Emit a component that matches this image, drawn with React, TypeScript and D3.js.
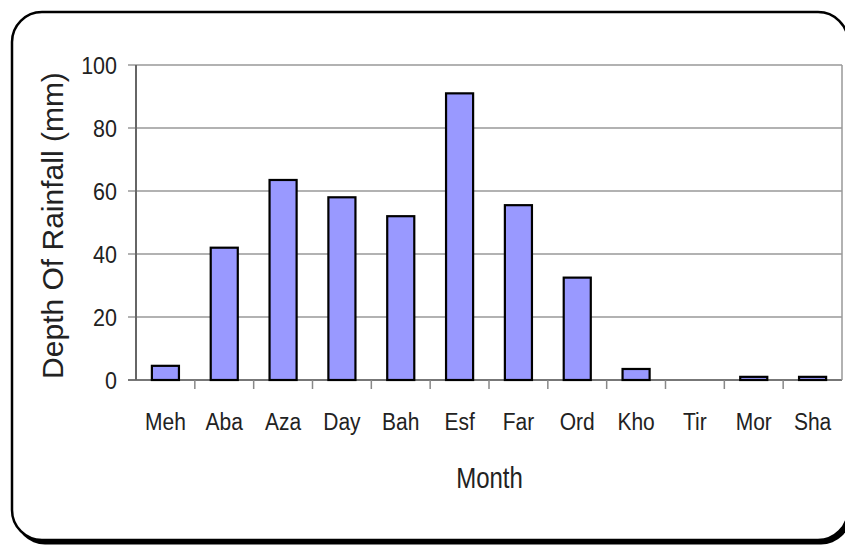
import React from "react";
import * as d3 from "d3";

const months = ["Meh", "Aba", "Aza", "Day", "Bah", "Esf", "Far", "Ord", "Kho", "Tir", "Mor", "Sha"];
const rainfall = [4.5, 42, 63.5, 58, 52, 91, 55.5, 32.5, 3.5, 0, 1, 1];
const yTicks = [0, 20, 40, 60, 80, 100];

const W = 845;
const H = 547;
const plot = { left: 136, right: 842, top: 65, bottom: 380 };
const font = "'Liberation Sans', Arial, sans-serif";

export default function App() {
  const x = d3.scaleBand<string>().domain(months).range([plot.left, plot.right]).paddingInner(0.54).paddingOuter(0.27);
  const xb = d3.scaleBand<string>().domain(months).range([plot.left, plot.right]);
  const y = d3.scaleLinear().domain([0, 100]).range([plot.bottom, plot.top]);

  return (
    <svg width={W} height={H} style={{ position: "absolute", left: 0, top: 0, background: "#fff" }} fontFamily={font}>
      <rect x={15} y={15.5} width={836} height={529} rx={30} ry={30} fill="#000" />
      <rect x={12} y={12} width={836} height={528} rx={30} ry={30} fill="#fff" stroke="#000" strokeWidth={2.5} />

      {/* gridlines */}
      {yTicks.map((t) => (
        <line key={"g" + t} x1={plot.left - 8} x2={plot.right} y1={y(t)} y2={y(t)} stroke={t === 0 ? "#777" : "#999"} strokeWidth={t === 0 ? 2 : 1.5} />
      ))}
      <line x1={plot.right} x2={plot.right} y1={plot.top} y2={plot.bottom} stroke="#999" strokeWidth={1.5} />
      <line x1={plot.left} x2={plot.left} y1={plot.top} y2={plot.bottom} stroke="#666" strokeWidth={2} />

      {/* x ticks */}
      {months.slice(1).map((m) => (
        <line key={"t" + m} x1={xb(m)!} x2={xb(m)!} y1={plot.bottom} y2={plot.bottom + 9} stroke="#888" strokeWidth={1.5} />
      ))}

      {/* bars */}
      {months.map((m, i) => {
        const v = rainfall[i];
        if (v <= 0) return null;
        const top = y(v);
        return (
          <rect key={"b" + m} x={x(m)!} y={top} width={x.bandwidth()} height={Math.max(plot.bottom - top, 0.5)} fill="#9999ff" stroke="#000" strokeWidth={2.2} />
        );
      })}

      {/* y tick labels */}
      {yTicks.map((t) => (
        <text key={"yl" + t} transform={`translate(117,${y(t) + 8.5}) scale(1,1.1)`} textAnchor="end" fontSize={21.5} fill="#222">
          {t}
        </text>
      ))}

      {/* x labels */}
      {months.map((m) => (
        <text key={"xl" + m} transform={`translate(${xb(m)! + xb.bandwidth() / 2},429.5) scale(1,1.1)`} textAnchor="middle" fontSize={21} fill="#222">
          {m}
        </text>
      ))}

      <text transform="translate(489.5,488) scale(1,1.22)" textAnchor="middle" fontSize={24} fill="#222">
        Month
      </text>
      <text transform="translate(63,225.5) rotate(-90)" textAnchor="middle" fontSize={30} fill="#222">
        Depth Of Rainfall (mm)
      </text>
    </svg>
  );
}
